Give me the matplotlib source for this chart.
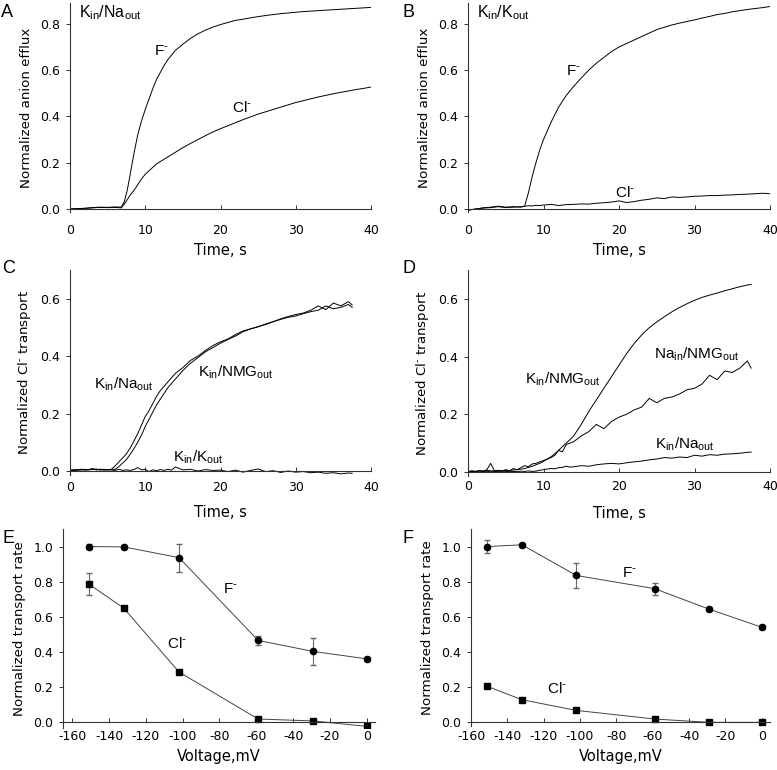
import matplotlib
matplotlib.use("Agg")
import matplotlib.pyplot as plt

plt.rcParams['font.family'] = ['DejaVu Sans']
plt.rcParams['mathtext.default'] = 'regular'
plt.rcParams['axes.unicode_minus'] = False

W, H = 777, 770
ANN = 'Liberation Sans'
MINUS = r'$^{\text{-}}$'

# ---- panel A : Kin/Naout, anion efflux ----
t_a = [0, 1, 2, 3, 4, 5, 6, 6.8, 7.2, 7.6, 8, 8.5, 9, 9.5, 10, 10.5, 11, 11.5, 12, 12.5,
       13, 13.5, 14, 15, 16, 17, 18, 19, 20, 21, 22, 23, 24, 25, 26, 27, 28, 29, 30,
       31, 32, 33, 34, 35, 36, 37, 38, 39, 40]
f_a = [0.000, 0.002, 0.003, 0.006, 0.008, 0.007, 0.009, 0.008, 0.03, 0.08, 0.15, 0.24, 0.32,
       0.38, 0.43, 0.475, 0.52, 0.56, 0.59, 0.62, 0.645, 0.665, 0.685, 0.712, 0.737, 0.757,
       0.773, 0.786, 0.797, 0.806, 0.815, 0.82, 0.826, 0.831, 0.836, 0.84, 0.844, 0.847,
       0.85, 0.853, 0.855, 0.857, 0.859, 0.861, 0.863, 0.865, 0.867, 0.869, 0.871]
cl_a = [0.0, 0.001, 0.003, 0.005, 0.007, 0.006, 0.007, 0.005, 0.02, 0.04, 0.06, 0.08, 0.105,
        0.13, 0.15, 0.165, 0.18, 0.195, 0.205, 0.215, 0.225, 0.235, 0.245, 0.265, 0.283,
        0.30, 0.317, 0.333, 0.347, 0.36, 0.373, 0.386, 0.398, 0.41, 0.42, 0.43, 0.44, 0.45,
        0.46, 0.468, 0.476, 0.484, 0.491, 0.498, 0.504, 0.51, 0.516, 0.521, 0.527]

# ---- panel B : Kin/Kout, anion efflux ----
t_b = [0, 1, 2, 3, 4, 5, 6, 7, 7.5, 8, 8.5, 9, 9.5, 10, 11, 12, 13, 14, 15, 16, 17, 18, 19,
       20, 21, 22, 23, 24, 25, 26, 27, 28, 29, 30, 31, 32, 33, 34, 35, 36, 37, 38, 39, 40]
f_b = [-0.005, 0.0, 0.005, 0.008, 0.012, 0.008, 0.01, 0.008, 0.012, 0.07, 0.14, 0.2, 0.255,
       0.30, 0.375, 0.44, 0.49, 0.53, 0.566, 0.60, 0.63, 0.655, 0.68, 0.70, 0.715, 0.73,
       0.745, 0.76, 0.775, 0.785, 0.795, 0.803, 0.81, 0.817, 0.825, 0.832, 0.84, 0.845,
       0.852, 0.857, 0.862, 0.866, 0.87, 0.875]
cl_b = [-0.005, 0.0, 0.004, 0.006, 0.01, 0.006, 0.008, 0.01, 0.012, 0.014, 0.013, 0.016,
        0.015, 0.017, 0.02, 0.015, 0.019, 0.02, 0.022, 0.021, 0.025, 0.027, 0.03, 0.035,
        0.028, 0.032, 0.038, 0.042, 0.048, 0.045, 0.052, 0.05, 0.052, 0.055, 0.056, 0.058,
        0.058, 0.06, 0.061, 0.063, 0.064, 0.066, 0.068, 0.066]

# ---- panels C, D : Cl- transport, shared time base ----
t_cd = [0, 0.5, 1, 1.5, 2, 2.5, 3, 3.5, 4, 4.5, 5, 5.5, 6, 6.5, 7, 7.5, 8, 8.5, 9, 9.5,
        10, 10.5, 11, 11.5, 12, 12.5, 13, 13.5, 14, 15, 16, 17, 18, 19, 20, 21, 22, 23,
        24, 25, 26, 27, 28, 29, 30, 31, 32, 33, 34, 35, 36, 37, 37.5]
c_na = [0.002, 0.004, 0.003, 0.006, 0.004, 0.005, 0.007, 0.004, 0.006, 0.005, 0.004, 0.006,
        0.018, 0.032, 0.045, 0.06, 0.08, 0.105, 0.13, 0.16, 0.19, 0.21, 0.235, 0.26, 0.28,
        0.295, 0.31, 0.325, 0.34, 0.36, 0.385, 0.40, 0.42, 0.437, 0.45, 0.46, 0.475, 0.488,
        0.495, 0.503, 0.51, 0.52, 0.528, 0.535, 0.54, 0.548, 0.555, 0.56, 0.575, 0.565,
        0.57, 0.58, 0.57]
c_nmg = [0.003, 0.002, 0.005, 0.003, 0.006, 0.004, 0.005, 0.007, 0.003, 0.006, 0.004, 0.004,
         0.006, 0.015, 0.028, 0.04, 0.058, 0.078, 0.10, 0.125, 0.155, 0.18, 0.205, 0.23,
         0.25, 0.27, 0.29, 0.305, 0.32, 0.35, 0.375, 0.395, 0.415, 0.43, 0.445, 0.458, 0.47,
         0.485, 0.495, 0.502, 0.512, 0.52, 0.53, 0.538, 0.545, 0.55, 0.56, 0.575, 0.562,
         0.585, 0.575, 0.59, 0.578]
c_k = [0.001, 0.004, 0.003, 0.006, 0.003, 0.005, 0.008, 0.004, 0.006, 0.003, 0.005, 0.004,
       0.002, 0.006, 0.002, 0.004, 0.002, 0.005, 0.012, 0.004, 0.006, -0.002, 0.004, 0.001,
       0.005, 0.002, 0.006, 0.003, 0.014, 0.004, 0.006, 0.0, 0.005, 0.002, 0.003, -0.002,
       0.003, -0.004, 0.002, 0.007, -0.002, 0.001, -0.005, 0.0, -0.004, -0.002, -0.006,
       -0.004, -0.008, -0.006, -0.01, -0.007, -0.008]
d_nmg = [0.002, 0.003, 0.002, 0.004, 0.003, 0.005, 0.004, 0.003, 0.005, 0.004, 0.006, 0.005,
         0.007, 0.008, 0.01, 0.012, 0.016, 0.02, 0.025, 0.03, 0.037, 0.045, 0.053, 0.063,
         0.075, 0.088, 0.1, 0.112, 0.125, 0.165, 0.21, 0.25, 0.29, 0.33, 0.37, 0.41, 0.445,
         0.475, 0.50, 0.52, 0.538, 0.555, 0.57, 0.583, 0.595, 0.605, 0.613, 0.62, 0.628,
         0.635, 0.642, 0.648, 0.65]
d_na_nmg = [0.0, 0.004, 0.002, 0.005, 0.003, 0.008, 0.03, 0.004, 0.006, 0.003, 0.008, 0.004,
            0.012, 0.008, 0.015, 0.022, 0.018, 0.028, 0.03, 0.035, 0.04, 0.045, 0.05, 0.058,
            0.075, 0.07, 0.095, 0.1, 0.105, 0.125, 0.14, 0.165, 0.15, 0.175, 0.19, 0.2, 0.215,
            0.225, 0.255, 0.24, 0.255, 0.26, 0.27, 0.285, 0.29, 0.305, 0.335, 0.32, 0.35,
            0.345, 0.36, 0.385, 0.36]
d_na = [0.001, 0.002, 0.001, 0.003, 0.002, 0.001, 0.003, 0.002, 0.001, 0.003, 0.002, 0.001,
        0.002, 0.001, 0.003, 0.002, 0.004, 0.002, 0.003, 0.006, 0.008, 0.01, 0.012, 0.011,
        0.015, 0.016, 0.02, 0.017, 0.018, 0.022, 0.02, 0.025, 0.028, 0.03, 0.028, 0.032,
        0.035, 0.038, 0.042, 0.045, 0.05, 0.048, 0.052, 0.05, 0.058, 0.055, 0.06, 0.058,
        0.062, 0.063, 0.065, 0.068, 0.069]

# ---- panels E, F : voltage dependence ----
volts = [-151, -132, -102, -59, -29, 0]
e_f = [1.0, 0.998, 0.937, 0.465, 0.402, 0.36]
e_f_err = [0.015, 0.01, 0.08, 0.025, 0.077, 0.01]
e_cl = [0.786, 0.649, 0.285, 0.017, 0.006, -0.025]
e_cl_err = [0.065, 0.01, 0.01, 0.01, 0.008, 0.008]
f_f = [1.0, 1.01, 0.835, 0.76, 0.643, 0.54]
f_f_err = [0.037, 0.01, 0.074, 0.035, 0.01, 0.012]
f_cl = [0.203, 0.127, 0.066, 0.017, -0.002, -0.002]
f_cl_err = [0.008, 0.008, 0.008, 0.008, 0.005, 0.005]


def make_ax(fig, left, right, top, zero, ymin, ymax, xpad=6):
    # box given in pixels: top of y-axis and the y=0 line
    bottom = zero + (zero - top) * (-ymin) / ymax
    ax = fig.add_axes([left / W, 1 - bottom / H, (right - left) / W, (bottom - top) / H])
    ax.set_ylim(ymin, ymax)
    for s in ['top', 'right']:
        ax.spines[s].set_visible(False)
    ax.spines['bottom'].set_position(('data', 0))
    for s in ['left', 'bottom']:
        ax.spines[s].set_color('#333333')
        ax.spines[s].set_linewidth(0.8)
    ax.tick_params(axis='y', direction='out', length=3, width=0.7, pad=4, labelsize=9,
                   color='#333333')
    ax.tick_params(axis='x', direction='in', length=3, width=0.7, pad=xpad, labelsize=9,
                   color='#333333')
    return ax


def note(ax, x, y, s, size=11):
    ax.text(x, y, s, family=ANN, fontsize=size, va='baseline', ha='left')


def letter(fig, x, y, s):
    fig.text(x / W, 1 - y / H, s, family=ANN, fontsize=13, va='baseline', ha='left')


fig = plt.figure(figsize=(W / 100, H / 100), dpi=100)

# A
ax = make_ax(fig, 70, 371, 3, 209, -0.012, 0.89, xpad=11)
ax.plot(t_a, f_a, color='black', lw=0.7)
ax.plot(t_a, cl_a, color='black', lw=0.7)
ax.set_xlim(0, 40)
ax.set_xticks([0, 10, 20, 30, 40])
ax.set_yticks([0, 0.2, 0.4, 0.6, 0.8])
ax.set_yticklabels(['0.0', '0.2', '0.4', '0.6', '0.8'])
ax.set_xlabel('Time, s', fontsize=10.5, labelpad=4)
ax.set_ylabel('Normalized anion efflux', fontsize=9.6, labelpad=5)
note(ax, 1.2, 0.83, r'K$_{in}$/Na$_{out}$', 11.5)
note(ax, 11.1, 0.665, 'F' + MINUS)
note(ax, 21.5, 0.42, 'Cl' + MINUS)

# B
ax = make_ax(fig, 468, 770, 3, 209, -0.012, 0.89, xpad=11)
ax.plot(t_b, f_b, color='black', lw=0.7)
ax.plot(t_b, cl_b, color='black', lw=0.7)
ax.set_xlim(0, 40)
ax.set_xticks([0, 10, 20, 30, 40])
ax.set_yticks([0, 0.2, 0.4, 0.6, 0.8])
ax.set_yticklabels(['0.0', '0.2', '0.4', '0.6', '0.8'])
ax.set_xlabel('Time, s', fontsize=10.5, labelpad=4)
ax.set_ylabel('Normalized anion efflux', fontsize=9.6, labelpad=5)
note(ax, 1.2, 0.83, r'K$_{in}$/K$_{out}$', 11.5)
note(ax, 13.0, 0.58, 'F' + MINUS)
note(ax, 19.5, 0.053, 'Cl' + MINUS)

# C
ax = make_ax(fig, 70, 371, 270, 471, -0.015, 0.7, xpad=7)
ax.plot(t_cd, c_na, color='black', lw=0.7)
ax.plot(t_cd, c_nmg, color='black', lw=0.7)
ax.plot(t_cd, c_k, color='black', lw=0.7)
ax.set_xlim(0, 40)
ax.set_xticks([0, 10, 20, 30, 40])
ax.set_yticks([0, 0.2, 0.4, 0.6])
ax.set_yticklabels(['0.0', '0.2', '0.4', '0.6'])
ax.set_xlabel('Time, s', fontsize=10.5, labelpad=8)
ax.set_ylabel('Normalized Cl' + MINUS + ' transport', fontsize=9.6, labelpad=5)
note(ax, 3.2, 0.287, r'K$_{in}$/Na$_{out}$')
note(ax, 17.0, 0.328, r'K$_{in}$/NMG$_{out}$')
note(ax, 13.7, 0.032, r'K$_{in}$/K$_{out}$')

# D
ax = make_ax(fig, 468, 770, 270, 472, -0.015, 0.7, xpad=6)
ax.plot(t_cd, d_nmg, color='black', lw=0.7)
ax.plot(t_cd, d_na_nmg, color='black', lw=0.7)
ax.plot(t_cd, d_na, color='black', lw=0.7)
ax.set_xlim(0, 40)
ax.set_xticks([0, 10, 20, 30, 40])
ax.set_yticks([0, 0.2, 0.4, 0.6])
ax.set_yticklabels(['0.0', '0.2', '0.4', '0.6'])
ax.set_xlabel('Time, s', fontsize=10.5, labelpad=9)
ax.set_ylabel('Normalized Cl' + MINUS + ' transport', fontsize=9.6, labelpad=5)
note(ax, 7.6, 0.307, r'K$_{in}$/NMG$_{out}$')
note(ax, 24.7, 0.394, r'Na$_{in}$/NMG$_{out}$')
note(ax, 24.8, 0.081, r'K$_{in}$/Na$_{out}$')

# E and F
for (left, right, xmin, ymin, fv, fe, cv, ce, fpos, cpos) in [
        (63, 375, -165, -0.035, e_f, e_f_err, e_cl, e_cl_err, (-78, 0.734), (-108.5, 0.421)),
        (471, 770, -160, -0.02, f_f, f_f_err, f_cl, f_cl_err, (-77, 0.829), (-118, 0.165))]:
    ax = make_ax(fig, left, right, 529, 722, ymin, 1.1)
    ax.errorbar(volts, fv, yerr=fe, fmt='-o', color='#444444', mfc='black', mec='black',
                ms=4.5, lw=0.7, elinewidth=0.8, ecolor='#666666', capsize=2.5)
    ax.errorbar(volts, cv, yerr=ce, fmt='-s', color='#444444', mfc='black', mec='black',
                ms=3.8, lw=0.7, elinewidth=0.8, ecolor='#666666', capsize=2.5)
    ax.set_xlim(xmin, 4.5)
    ax.set_xticks([-160, -140, -120, -100, -80, -60, -40, -20, 0])
    ax.set_yticks([0, 0.2, 0.4, 0.6, 0.8, 1.0])
    ax.set_yticklabels(['0.0', '0.2', '0.4', '0.6', '0.8', '1.0'])
    ax.set_xlabel('Voltage,mV', fontsize=10.5, labelpad=4)
    ax.set_ylabel('Normalized transport rate', fontsize=9.6, labelpad=5)
    note(ax, fpos[0], fpos[1], 'F' + MINUS)
    note(ax, cpos[0], cpos[1], 'Cl' + MINUS)

letter(fig, 1, 17, 'A')
letter(fig, 402, 17, 'B')
letter(fig, 2, 273, 'C')
letter(fig, 402, 273, 'D')
letter(fig, 2, 543, 'E')
letter(fig, 403, 543, 'F')

plt.savefig('out.png', dpi=100)
plt.close()
